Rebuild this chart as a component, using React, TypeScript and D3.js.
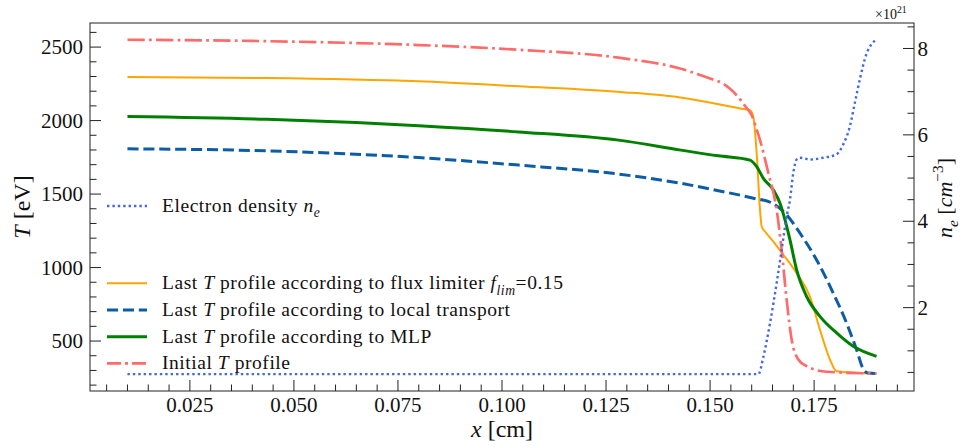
import * as d3 from "d3";

// x positions [cm] and temperatures [eV]
const fluxX = [0.01, 0.0435, 0.08, 0.104, 0.1284, 0.1428, 0.1524, 0.1572, 0.1596, 0.1604, 0.1612, 0.162, 0.1624, 0.1632, 0.1652, 0.1676, 0.1708, 0.174, 0.1764, 0.1788, 0.1804, 0.19];
const fluxT = [2296, 2290, 2267, 2233, 2195, 2157, 2109, 2082, 2070, 2025, 1777, 1392, 1279, 1245, 1177, 1087, 962, 803, 577, 374, 295, 279];

const localX = [0.01, 0.0435, 0.08, 0.104, 0.128, 0.143, 0.152, 0.1604, 0.1648, 0.1684, 0.1716, 0.1756, 0.1796, 0.1828, 0.1852, 0.1868, 0.188, 0.19];
const localT = [1808, 1794, 1748, 1697, 1636, 1573, 1523, 1472, 1440, 1358, 1234, 1052, 826, 622, 441, 310, 282, 279];

const mlpX = [0.01, 0.0435, 0.08, 0.104, 0.128, 0.143, 0.152, 0.1596, 0.1612, 0.1628, 0.1652, 0.1668, 0.168, 0.1692, 0.1708, 0.1732, 0.1764, 0.1804, 0.1844, 0.19];
const mlpT = [2028, 2009, 1965, 1923, 1867, 1799, 1760, 1731, 1686, 1607, 1528, 1437, 1324, 1188, 984, 803, 668, 555, 464, 396];

const initX = [0.01, 0.04, 0.08, 0.104, 0.128, 0.143, 0.15, 0.1524, 0.1548, 0.1564, 0.1576, 0.1588, 0.16, 0.1612, 0.162, 0.164, 0.166, 0.1672, 0.1684, 0.1696, 0.1712, 0.1732, 0.178, 0.19];
const initT = [2550, 2542, 2514, 2482, 2428, 2353, 2286, 2262, 2217, 2172, 2130, 2085, 2036, 1940, 1867, 1643, 1392, 1120, 781, 510, 374, 329, 291, 279];

// electron density [1e21 cm^-3]
const neX = [0.01, 0.1616, 0.1628, 0.1644, 0.166, 0.1672, 0.1684, 0.1692, 0.17, 0.1708, 0.1716, 0.174, 0.1772, 0.1804, 0.182, 0.1836, 0.1848, 0.186, 0.1872, 0.19];
const neV = [0.46, 0.46, 0.86, 1.64, 2.57, 3.34, 4.11, 4.5, 5.12, 5.43, 5.47, 5.43, 5.47, 5.55, 5.78, 6.2, 6.75, 7.29, 7.76, 8.22];

const xTicks = [0.025, 0.05, 0.075, 0.1, 0.125, 0.15, 0.175];
const tTicks = [500, 1000, 1500, 2000, 2500];
const neTicks = [2, 4, 6, 8];

const FONT = "Liberation Serif";
const INK = "#111";
const AXIS = "#222";

type Part = { t: string; i?: boolean; sub?: boolean; sup?: boolean };

// math-ish text: italic pieces, sub/superscripts
const Rich = ({ parts, size }: { parts: Part[]; size: number }) => {
  let shift = 0;
  return (
    <>
      {parts.map((p, k) => {
        const target = p.sub ? size * 0.28 : p.sup ? -size * 0.4 : 0;
        const dy = target - shift;
        shift = target;
        return (
          <tspan key={k} dy={dy} fontStyle={p.i ? "italic" : undefined}
            fontSize={p.sub || p.sup ? size * 0.7 : undefined}>{p.t}</tspan>
        );
      })}
    </>
  );
};

const left = 90, right = 914, top = 23, bottom = 391;

const x = d3.scaleLinear().domain([0.001, 0.199]).range([left, right]);
const yT = d3.scaleLinear().domain([160, 2664]).range([bottom, top]);
const yN = d3.scaleLinear().domain([0.07, 8.59]).range([bottom, top]);

const xMinor = d3.range(1, 40).map((i) => i * 0.005).filter((v) => Math.abs(v / 0.025 - Math.round(v / 0.025)) > 1e-6);
const tMinor = d3.range(2, 27).map((i) => i * 100).filter((v) => v % 500 !== 0);
const nMinor = d3.range(1, 18).map((i) => i * 0.5).filter((v) => v % 2 !== 0);

const series = [
  { xs: fluxX, ys: fluxT, color: "#FFA500", width: 2, dash: undefined, legDash: undefined,
    label: [{ t: "Last " }, { t: "T", i: true }, { t: " profile according to flux limiter " }, { t: "f", i: true }, { t: "lim", i: true, sub: true }, { t: "=0.15" }] },
  { xs: localX, ys: localT, color: "#0C5DA5", width: 3, dash: "11.1 4.8", legDash: "11.1 4.8",
    label: [{ t: "Last " }, { t: "T", i: true }, { t: " profile according to local transport" }] },
  { xs: mlpX, ys: mlpT, color: "#008000", width: 3, dash: undefined, legDash: undefined,
    label: [{ t: "Last " }, { t: "T", i: true }, { t: " profile according to MLP" }] },
  { xs: initX, ys: initT, color: "#FF6B6B", width: 2.7, dash: "17.3 4.3 2.7 4.3", legDash: "14 4 3 4",
    label: [{ t: "Initial " }, { t: "T", i: true }, { t: " profile" }] },
];

const tLine = d3.line<[number, number]>().x((d) => x(d[0])).y((d) => yT(d[1])).curve(d3.curveMonotoneX);
const nLine = d3.line<[number, number]>().x((d) => x(d[0])).y((d) => yN(d[1])).curve(d3.curveMonotoneX);

const legY = [283.3, 310, 336.7, 363.3];
const LEG = 19.5;
const LS = 0.55;

const App = () => (
  <svg width={960} height={448} style={{ position: "absolute", left: 0, top: 0, background: "#fff" }}>
    <defs>
      <clipPath id="plot">
        <rect x={left} y={top} width={right - left} height={bottom - top} />
      </clipPath>
    </defs>

    {/* ticks, pointing inward */}
    <g stroke={AXIS} strokeWidth={1}>
      {xTicks.map((v) => <line key={"xM" + v} x1={x(v)} x2={x(v)} y1={bottom} y2={bottom - 11} />)}
      {xMinor.map((v) => <line key={"xm" + v} x1={x(v)} x2={x(v)} y1={bottom} y2={bottom - 6.5} />)}
      {tTicks.map((v) => <line key={"tM" + v} x1={left} x2={left + 11} y1={yT(v)} y2={yT(v)} />)}
      {tMinor.map((v) => <line key={"tm" + v} x1={left} x2={left + 6.5} y1={yT(v)} y2={yT(v)} />)}
      {neTicks.map((v) => <line key={"nM" + v} x1={right} x2={right - 11} y1={yN(v)} y2={yN(v)} />)}
      {nMinor.map((v) => <line key={"nm" + v} x1={right} x2={right - 6.5} y1={yN(v)} y2={yN(v)} />)}
    </g>

    {/* tick labels */}
    <g fontFamily={FONT} fontSize={21} fill={INK}>
      {xTicks.map((v) => (
        <text key={"xl" + v} x={x(v)} y={bottom + 21} textAnchor="middle">{d3.format(".3f")(v)}</text>
      ))}
      {tTicks.map((v) => (
        <text key={"tl" + v} x={left - 7} y={yT(v)} dy="0.34em" textAnchor="end">{v}</text>
      ))}
      {neTicks.map((v) => (
        <text key={"nl" + v} x={right + 3.5} y={yN(v)} dy="0.34em">{v}</text>
      ))}
    </g>

    <rect x={left} y={top} width={right - left} height={bottom - top} fill="none" stroke={AXIS} strokeWidth={1} />

    {/* temperature profiles */}
    <g clipPath="url(#plot)" fill="none">
      {series.map((s) => (
        <path key={s.color} d={tLine(s.xs.map((v, k) => [v, s.ys[k]] as [number, number])) || ""}
          stroke={s.color} strokeWidth={s.width} strokeDasharray={s.dash} />
      ))}
    </g>

    {/* legend for T curves */}
    <g fontFamily={FONT} fontSize={LEG} fill={INK} letterSpacing={LS}>
      {series.map((s, k) => (
        <g key={"leg" + k}>
          <line x1={107} x2={147} y1={legY[k]} y2={legY[k]} stroke={s.color} strokeWidth={s.width} strokeDasharray={s.legDash} />
          <text x={162} y={legY[k] + 6}><Rich parts={s.label} size={LEG} /></text>
        </g>
      ))}
    </g>

    {/* electron density, right axis */}
    <path clipPath="url(#plot)" fill="none" stroke="#4169E1" strokeWidth={2.4} strokeDasharray="2.4 3"
      d={nLine(neX.map((v, k) => [v, neV[k]] as [number, number])) || ""} />

    <line x1={107} x2={147} y1={206} y2={206} stroke="#4169E1" strokeWidth={2.4} strokeDasharray="2.4 3" />
    <text x={162} y={212} fontFamily={FONT} fontSize={LEG} fill={INK} letterSpacing={LS}>
      <Rich parts={[{ t: "Electron density " }, { t: "n", i: true }, { t: "e", i: true, sub: true }]} size={LEG} />
    </text>

    {/* axis labels */}
    <text x={(left + right) / 2} y={437} textAnchor="middle" fontFamily={FONT} fontSize={24} fill={INK}>
      <Rich parts={[{ t: "x", i: true }, { t: " [cm]" }]} size={24} />
    </text>
    <text transform={`translate(30,${(top + bottom) / 2}) rotate(-90)`} textAnchor="middle" fontFamily={FONT} fontSize={24} fill={INK}>
      <Rich parts={[{ t: "T", i: true }, { t: " [eV]" }]} size={24} />
    </text>
    <text transform="translate(952,198) rotate(-90)" textAnchor="middle" fontFamily={FONT} fontSize={22} fill={INK}>
      <Rich parts={[{ t: "n", i: true }, { t: "e", i: true, sub: true }, { t: " [" }, { t: "cm", i: true }, { t: "−3", sup: true }, { t: "]" }]} size={22} />
    </text>
    <text x={875} y={19} fontFamily={FONT} fontSize={14} fill={INK}>
      <Rich parts={[{ t: "×10" }, { t: "21", sup: true }]} size={14} />
    </text>
  </svg>
);

export default App;
